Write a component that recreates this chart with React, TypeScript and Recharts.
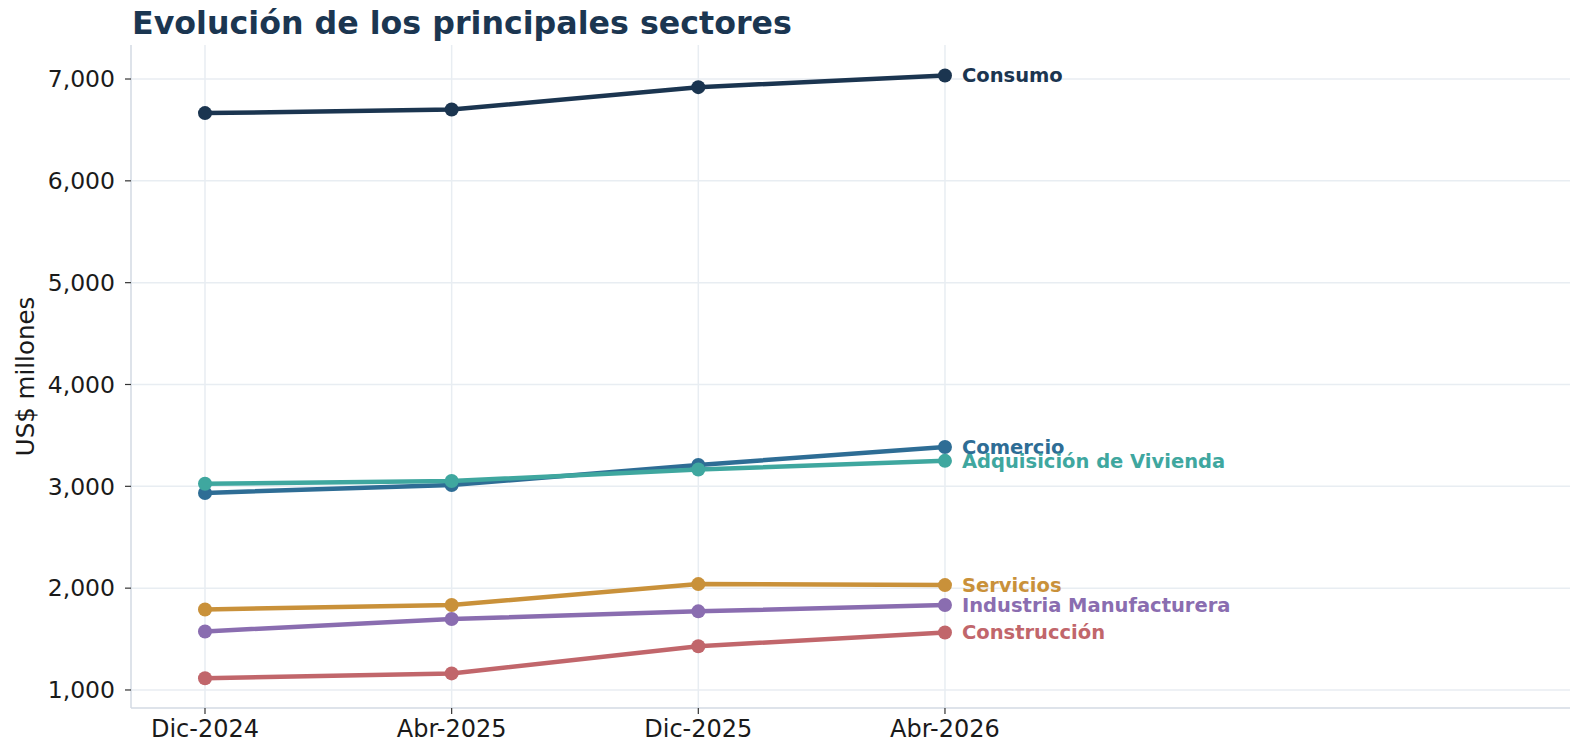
import React from 'react';
import { LineChart, Line, XAxis, YAxis, CartesianGrid, LabelList, Label } from 'recharts';

const categories = ['Dic-2024', 'Abr-2025', 'Dic-2025', 'Abr-2026'];
const consumo = [6665, 6700, 6920, 7035];
const comercio = [2935, 3013, 3210, 3386];
const vivienda = [3025, 3052, 3165, 3250];
const servicios = [1790, 1835, 2040, 2030];
const industria = [1575, 1697, 1772, 1835];
const construccion = [1115, 1163, 1430, 1565];
const yTicks = [1000, 2000, 3000, 4000, 5000, 6000, 7000];
const xTicks = [0, 1, 2, 3];

const series = [
  { key: 'consumo', name: 'Consumo', values: consumo, color: '#1b3550' },
  { key: 'comercio', name: 'Comercio', values: comercio, color: '#2e6d95' },
  { key: 'vivienda', name: 'Adquisición de Vivienda', values: vivienda, color: '#3fa79f' },
  { key: 'servicios', name: 'Servicios', values: servicios, color: '#c9913a' },
  { key: 'industria', name: 'Industria Manufacturera', values: industria, color: '#8a6db0' },
  { key: 'construccion', name: 'Construcción', values: construccion, color: '#c1666b' },
];

const data = categories.map((c, i) => {
  const row: any = { x: i, cat: c };
  series.forEach((s) => { row[s.key] = s.values[i]; });
  return row;
});

const FONT = '"DejaVu Sans", sans-serif';

const makeEndLabel = (name: string, color: string) => (props: any) => {
  const { x, y, index } = props;
  if (index !== categories.length - 1) return null;
  return (
    <text x={x + 17} y={y} dy="0.35em" fill={color} fontFamily={FONT} fontWeight="bold" fontSize={19.5}>
      {name}
    </text>
  );
};

export default function App() {
  return (
    <div style={{ position: 'absolute', left: 0, top: 0, width: 1570, height: 748, background: '#fff' }}>
      <div style={{ position: 'absolute', left: 132, top: 3, fontFamily: FONT, fontWeight: 'bold', fontSize: 31.7, lineHeight: '40px', color: '#1b3651', whiteSpace: 'nowrap' }}>
        Evolución de los principales sectores
      </div>
      <LineChart width={1570} height={748} data={data} margin={{ top: 45, right: 0, bottom: 0, left: 0 }}>
        <CartesianGrid stroke="#e8edf2" strokeWidth={1.5} horizontalValues={yTicks} verticalValues={xTicks} />
        <XAxis
          dataKey="x"
          type="number"
          domain={[-0.3, 5.534]}
          allowDataOverflow
          ticks={xTicks}
          tickFormatter={(v: number) => categories[v] ?? ''}
          tick={{ fontFamily: FONT, fontSize: 24, fill: '#1a1a1a' }}
          tickLine={{ stroke: '#333', strokeWidth: 1.2 }}
          tickSize={6}
          tickMargin={6}
          axisLine={{ stroke: '#d3dae3', strokeWidth: 1.5 }}
          height={40}
        />
        <YAxis
          type="number"
          domain={[823, 7334]}
          allowDataOverflow
          ticks={yTicks}
          tickFormatter={(v: number) => v.toLocaleString('en-US')}
          tick={{ fontFamily: FONT, fontSize: 23.5, fill: '#1a1a1a' }}
          tickLine={{ stroke: '#333', strokeWidth: 1.2 }}
          tickSize={6}
          tickMargin={10}
          axisLine={{ stroke: '#d3dae3', strokeWidth: 1.5 }}
          width={131}
        >
          <Label
            value="US$ millones"
            position="insideLeft"
            content={(p: any) => {
              const vb = p.viewBox;
              const cy = vb.y + vb.height / 2;
              return (
                <text x={25} y={cy} transform={`rotate(-90 25 ${cy})`} textAnchor="middle" dy="0.35em" fontFamily={FONT} fontSize={24.5} fill="#1a1a1a">
                  US$ millones
                </text>
              );
            }}
          />
        </YAxis>
        {series.map((s) => (
          <Line
            key={s.key}
            dataKey={s.key}
            type="linear"
            stroke={s.color}
            strokeWidth={4.5}
            dot={{ r: 7, fill: s.color, stroke: s.color, strokeWidth: 0 }}
            activeDot={false}
            isAnimationActive={false}
          >
            <LabelList dataKey={s.key} content={makeEndLabel(s.name, s.color)} />
          </Line>
        ))}
      </LineChart>
    </div>
  );
}
